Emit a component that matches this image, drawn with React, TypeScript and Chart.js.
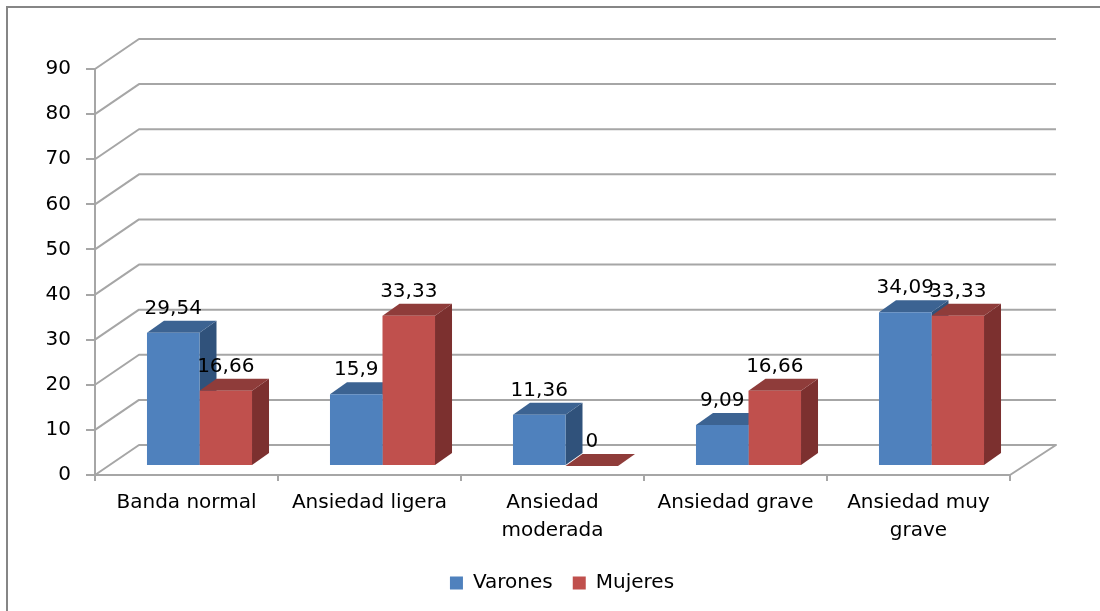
import React, { useEffect, useRef } from "react";
import { Chart, registerables } from "chart.js";

Chart.register(...registerables);

const categories: (string | string[])[] = [
  "Banda normal",
  "Ansiedad ligera",
  ["Ansiedad", "moderada"],
  "Ansiedad grave",
  ["Ansiedad muy", "grave"],
];
const varones = [29.54, 15.9, 11.36, 9.09, 34.09];
const mujeres = [16.66, 33.33, 0, 16.66, 33.33];
const yTicksMax = 90;
const yTickStep = 10;

const GRID = "#a6a6a6";
const FRAME = "#868686";
const FONT = "'DejaVu Sans', sans-serif";
const FONT_SIZE = 20;
const shades = [
  { front: "#4f81bd", top: "#3c6392", side: "#30527b" },
  { front: "#c0504d", top: "#8f3c3a", side: "#7c302f" },
];
const WALL_DX = 44;
const WALL_DY = 30;
const WALL_RIGHT_DX = 46;
const BAR_SHIFT_X = 13;
const BAR_SHIFT_Y = -9;
const DEPTH_X = 17;
const DEPTH_Y = 12;

const chart3d = {
  id: "chart3d",
  beforeDraw(chart: any) {
    const { ctx } = chart;
    ctx.save();
    ctx.fillStyle = "#ffffff";
    ctx.fillRect(0, 0, chart.width, chart.height);
    ctx.strokeStyle = FRAME;
    ctx.lineWidth = 2;
    ctx.beginPath();
    ctx.moveTo(7, chart.height);
    ctx.lineTo(7, 7);
    ctx.lineTo(chart.width, 7);
    ctx.stroke();
    ctx.restore();
  },
  afterLayout(chart: any) {
    const legend = chart.legend;
    const shift = 562 - (legend.left + legend.right) / 2;
    legend.left += shift;
    legend.right += shift;
    const h = legend.bottom - legend.top;
    legend.top = 553;
    legend.bottom = 553 + h;
  },
  beforeDatasetsDraw(chart: any) {
    const { ctx, chartArea, scales } = chart;
    ctx.save();
    ctx.strokeStyle = GRID;
    ctx.lineWidth = 2;
    ctx.lineJoin = "round";
    ctx.beginPath();
    ctx.moveTo(chartArea.left, chartArea.top);
    ctx.lineTo(chartArea.left, chartArea.bottom);
    ctx.stroke();
    for (const tick of scales.y.ticks) {
      const p = scales.y.getPixelForValue(tick.value);
      ctx.beginPath();
      ctx.moveTo(chartArea.left, p);
      ctx.lineTo(chartArea.left + WALL_DX, p - WALL_DY);
      ctx.lineTo(chartArea.right + WALL_RIGHT_DX, p - WALL_DY);
      if (tick.value === 0) ctx.lineTo(chartArea.right, p);
      ctx.stroke();
    }
    ctx.restore();

    ctx.save();
    ctx.translate(BAR_SHIFT_X, BAR_SHIFT_Y);
    chart.data.datasets.forEach((_: any, di: number) => {
      const c = shades[di];
      for (const el of chart.getDatasetMeta(di).data) {
        const { x, y, base, width } = el.getProps(["x", "y", "base", "width"], true);
        const r = x + width / 2;
        const l = x - width / 2;
        ctx.fillStyle = c.side;
        ctx.beginPath();
        ctx.moveTo(r, y);
        ctx.lineTo(r + DEPTH_X, y - DEPTH_Y);
        ctx.lineTo(r + DEPTH_X, base - DEPTH_Y);
        ctx.lineTo(r, base);
        ctx.closePath();
        ctx.fill();
        ctx.fillStyle = c.top;
        ctx.beginPath();
        ctx.moveTo(l, y);
        ctx.lineTo(l + DEPTH_X, y - DEPTH_Y);
        ctx.lineTo(r + DEPTH_X, y - DEPTH_Y);
        ctx.lineTo(r, y);
        ctx.closePath();
        ctx.fill();
      }
    });
  },
  afterDatasetsDraw(chart: any) {
    const { ctx } = chart;
    ctx.fillStyle = "#000000";
    ctx.font = `${FONT_SIZE}px ${FONT}`;
    ctx.textAlign = "center";
    ctx.textBaseline = "middle";
    chart.data.datasets.forEach((ds: any, di: number) => {
      chart.getDatasetMeta(di).data.forEach((el: any, i: number) => {
        const { x, y } = el.getProps(["x", "y"], true);
        ctx.fillText(String(ds.data[i]).replace(".", ","), x, y - 24);
      });
    });
    ctx.restore();
  },
};

export default function App() {
  const ref = useRef<HTMLCanvasElement>(null);
  useEffect(() => {
    if (!ref.current) return;
    const chart = new Chart(ref.current, {
      type: "bar",
      plugins: [chart3d],
      data: {
        labels: categories,
        datasets: [
          { label: "Varones", data: varones, backgroundColor: shades[0].front, clip: false },
          { label: "Mujeres", data: mujeres, backgroundColor: shades[1].front, clip: false },
        ],
      } as any,
      options: {
        responsive: false,
        animation: false,
        layout: { padding: { left: 5, top: 69, right: 90, bottom: 0 } },
        datasets: { bar: { barPercentage: 1, categoryPercentage: 0.574 } },
        plugins: {
          tooltip: { enabled: false },
          legend: {
            position: "bottom",
            labels: {
              boxWidth: 13,
              boxHeight: 13,
              padding: 20,
              color: "#000000",
              font: { family: FONT, size: FONT_SIZE },
            },
          },
        },
        scales: {
          x: {
            border: { color: GRID, width: 2 },
            grid: {
              color: GRID,
              lineWidth: 2,
              drawOnChartArea: false,
              tickLength: 6,
            },
            ticks: {
              color: "#000000",
              font: { family: FONT, size: FONT_SIZE, lineHeight: 1.4 },
              padding: 8,
              autoSkip: false,
              maxRotation: 0,
              minRotation: 0,
            },
            afterFit(scale: any) {
              scale.height = 611 - 475 - (scale.chart.legend?.height ?? 0);
            },
          },
          y: {
            min: 0,
            max: yTicksMax,
            border: { color: GRID, width: 2 },
            grid: {
              color: GRID,
              lineWidth: 2,
              drawOnChartArea: false,
              tickLength: 9,
            },
            ticks: {
              stepSize: yTickStep,
              color: "#000000",
              font: { family: FONT, size: FONT_SIZE },
              padding: 15,
            },
            afterFit(scale: any) {
              scale.width = 90;
            },
          },
        },
      },
    } as any);
    return () => chart.destroy();
  }, []);
  return (
    <canvas
      ref={ref}
      width={1100}
      height={611}
      style={{ display: "block", position: "absolute", left: 0, top: 0, width: 1100, height: 611 }}
    />
  );
}
